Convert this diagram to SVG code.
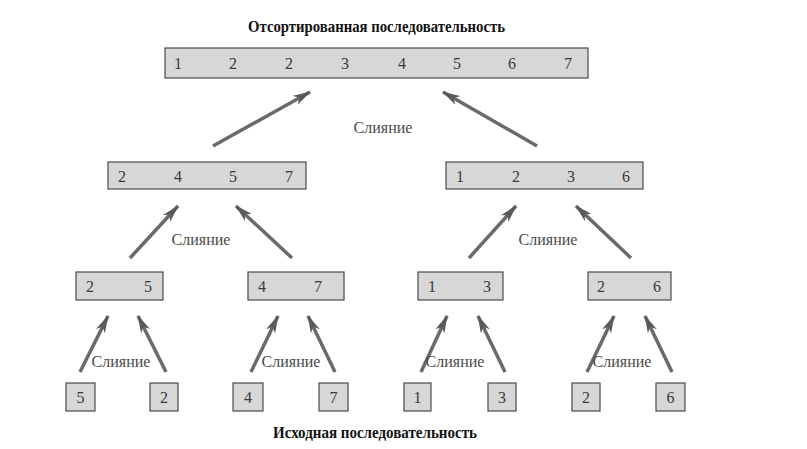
<svg xmlns="http://www.w3.org/2000/svg" width="807" height="449" viewBox="0 0 807 449">
<style>
.box{fill:#d7d7d7;stroke:#4a4a4a;stroke-width:1.2}
.num{font-family:"Liberation Serif",serif;font-size:16px;fill:#3a3a3a;text-anchor:middle}
.lbl{font-family:"Liberation Serif",serif;font-size:16px;fill:#4a4a4a;text-anchor:middle}
.title{font-family:"Liberation Serif",serif;font-size:17px;font-weight:bold;fill:#111}
.arr{stroke:#6a6a6a;stroke-width:3.5;fill:none;marker-end:url(#ah)}
</style>
<defs>
<marker id="ah" viewBox="0 0 18 10" refX="17" refY="5" markerWidth="18" markerHeight="10" markerUnits="userSpaceOnUse" orient="auto">
<path d="M0,0 L18,5 L0,10 L5,5 Z" fill="#5a5a5a"/>
</marker>
</defs>
<rect width="807" height="449" fill="#fff"/>
<text class="title" x="248" y="32" textLength="257" lengthAdjust="spacingAndGlyphs">Отсортированная последовательность</text>
<text class="title" x="273" y="438" textLength="204" lengthAdjust="spacingAndGlyphs">Исходная последовательность</text>

<g id="n-root">
<rect class="box" x="165" y="48" width="423" height="30"/>
<text class="num" x="178" y="69">1</text><text class="num" x="233" y="69">2</text><text class="num" x="289" y="69">2</text><text class="num" x="345" y="69">3</text><text class="num" x="402" y="69">4</text><text class="num" x="457" y="69">5</text><text class="num" x="512" y="69">6</text><text class="num" x="568" y="69">7</text>
</g>
<g id="n-l">
<rect class="box" x="108" y="162" width="198" height="27"/>
<text class="num" x="122" y="182">2</text><text class="num" x="178" y="182">4</text><text class="num" x="233" y="182">5</text><text class="num" x="289" y="182">7</text>
</g>
<g id="n-r">
<rect class="box" x="446" y="162" width="197" height="27"/>
<text class="num" x="460" y="182">1</text><text class="num" x="516" y="182">2</text><text class="num" x="571" y="182">3</text><text class="num" x="626" y="182">6</text>
</g>
<g id="n-ll">
<rect class="box" x="76" y="272" width="87" height="28"/>
<text class="num" x="90" y="292">2</text><text class="num" x="148" y="292">5</text>
</g>
<g id="n-lr">
<rect class="box" x="248" y="272" width="96" height="28"/>
<text class="num" x="262" y="292">4</text><text class="num" x="318" y="292">7</text>
</g>
<g id="n-rl">
<rect class="box" x="418" y="272" width="85" height="28"/>
<text class="num" x="432" y="292">1</text><text class="num" x="487" y="292">3</text>
</g>
<g id="n-rr">
<rect class="box" x="588" y="272" width="83" height="28"/>
<text class="num" x="601" y="292">2</text><text class="num" x="657" y="292">6</text>
</g>
<g id="leaf-5"><rect class="box" x="66" y="383" width="29" height="28"/><text class="num" x="80.5" y="403">5</text></g>
<g id="leaf-2a"><rect class="box" x="150" y="383" width="28" height="28"/><text class="num" x="164" y="403">2</text></g>
<g id="leaf-4"><rect class="box" x="233" y="383" width="30" height="28"/><text class="num" x="248" y="403">4</text></g>
<g id="leaf-7"><rect class="box" x="319" y="383" width="29" height="28"/><text class="num" x="333.5" y="403">7</text></g>
<g id="leaf-1"><rect class="box" x="404" y="383" width="27" height="28"/><text class="num" x="417.5" y="403">1</text></g>
<g id="leaf-3"><rect class="box" x="488" y="383" width="28" height="28"/><text class="num" x="502" y="403">3</text></g>
<g id="leaf-2b"><rect class="box" x="572" y="383" width="28" height="28"/><text class="num" x="586" y="403">2</text></g>
<g id="leaf-6"><rect class="box" x="656" y="383" width="29" height="28"/><text class="num" x="670.5" y="403">6</text></g>

<g id="connectors">
<line class="arr" x1="213" y1="146" x2="310" y2="92"/>
<line class="arr" x1="537" y1="146" x2="443" y2="92"/>
<line class="arr" x1="130" y1="258" x2="178" y2="206"/>
<line class="arr" x1="292" y1="258" x2="236" y2="206"/>
<line class="arr" x1="469" y1="258" x2="516" y2="206"/>
<line class="arr" x1="631" y1="258" x2="576" y2="206"/>
<line class="arr" x1="80" y1="372" x2="108" y2="316"/>
<line class="arr" x1="166" y1="372" x2="138" y2="316"/>
<line class="arr" x1="251" y1="372" x2="278" y2="316"/>
<line class="arr" x1="335" y1="372" x2="308" y2="316"/>
<line class="arr" x1="421" y1="372" x2="447" y2="316"/>
<line class="arr" x1="505" y1="372" x2="478" y2="316"/>
<line class="arr" x1="587" y1="372" x2="614" y2="316"/>
<line class="arr" x1="672" y1="372" x2="645" y2="316"/>
<text class="lbl" x="383" y="133">Слияние</text>
<text class="lbl" x="201" y="245">Слияние</text>
<text class="lbl" x="548" y="245">Слияние</text>
<text class="lbl" x="121" y="367">Слияние</text>
<text class="lbl" x="291" y="367">Слияние</text>
<text class="lbl" x="455" y="367">Слияние</text>
<text class="lbl" x="622" y="367">Слияние</text>
</g>
</svg>
